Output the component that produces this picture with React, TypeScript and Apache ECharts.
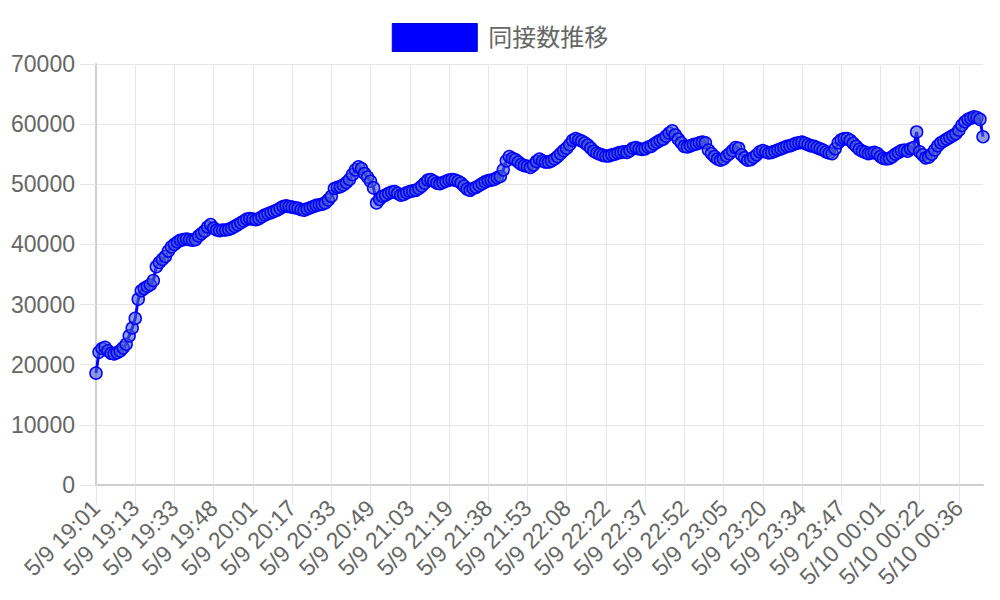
import React, { useEffect, useRef } from "react";
import * as echarts from "echarts";

const seriesName = "同接数推移";

// tick labels shown on the x axis (every 13th point)
const tickLabels = [
  "5/9 19:01", "5/9 19:13", "5/9 19:33", "5/9 19:48", "5/9 20:01", "5/9 20:17",
  "5/9 20:33", "5/9 20:49", "5/9 21:03", "5/9 21:19", "5/9 21:38", "5/9 21:53",
  "5/9 22:08", "5/9 22:22", "5/9 22:37", "5/9 22:52", "5/9 23:05", "5/9 23:20",
  "5/9 23:34", "5/9 23:47", "5/10 00:01", "5/10 00:22", "5/10 00:36",
];

const concurrentViewers = [
  18600, 22100, 22700, 22900, 22300, 21900, 21800, 22000, 22300, 22800, 23400, 24800, 26100, 27700, 30900,
  32300, 32700, 33000, 33300, 34000, 36300, 37000, 37500, 38000, 38900, 39600, 40000, 40400, 40700, 40800,
  40900, 40800, 40700, 40800, 41400, 41800, 42200, 42900, 43300, 42700, 42400, 42300, 42400, 42400, 42500,
  42700, 43000, 43300, 43600, 43900, 44200, 44300, 44200, 44100, 44300, 44600, 44900, 45100, 45300, 45500,
  45700, 46000, 46300, 46400, 46300, 46200, 46100, 46000, 45800, 45700, 45900, 46100, 46300, 46500, 46600,
  46700, 46900, 47400, 48000, 49300, 49500, 49600, 49900, 50300, 50800, 51600, 52400, 52900, 52600, 51800,
  51200, 50500, 49400, 46900, 47500, 48000, 48200, 48500, 48700, 48800, 48500, 48200, 48300, 48600, 48800,
  48900, 49000, 49300, 49700, 50200, 50700, 50800, 50500, 50200, 50100, 50300, 50500, 50700, 50800, 50700,
  50500, 50200, 49700, 49200, 49000, 49300, 49500, 49800, 50100, 50400, 50600, 50700, 50800, 51100, 51300,
  52400, 53900, 54600, 54300, 54100, 53700, 53300, 53100, 53000, 52800, 53200, 53800, 54200, 53900, 53700,
  53700, 53900, 54200, 54600, 55100, 55600, 56000, 56600, 57300, 57600, 57400, 57200, 56900, 56500, 56000,
  55500, 55200, 55000, 54800, 54700, 54700, 54900, 55000, 55200, 55300, 55400, 55300, 55600, 56000, 56100,
  55900, 55800, 55900, 56200, 56300, 56700, 57000, 57300, 57500, 58000, 58500, 58900, 58200, 57500, 56900,
  56300, 56200, 56400, 56600, 56700, 56900, 57000, 56900, 55700, 55100, 54600, 54200, 54000, 54200, 54700,
  55100, 55600, 56100, 56000, 54900, 54400, 54000, 54100, 54500, 54900, 55400, 55600, 55400, 55200, 55300,
  55500, 55700, 55900, 56100, 56300, 56400, 56600, 56800, 56900, 57000, 56800, 56600, 56400, 56300, 56100,
  55900, 55700, 55400, 55200, 55100, 55900, 56900, 57400, 57600, 57600, 57300, 56800, 56300, 55800, 55500,
  55300, 55100, 55200, 55300, 55100, 54600, 54300, 54200, 54300, 54600, 55000, 55300, 55600, 55700, 55500,
  55900, 56100, 58700, 55400, 54900, 54400, 54500, 55000, 55700, 56400, 56900, 57200, 57500, 57800, 58100,
  58400, 59000, 59800, 60400, 60800, 61000, 61200, 61100, 60800, 57900,
];

const POINTS_PER_TICK = 13;

function toMinutes(label: string): number {
  const [md, hm] = label.split(" ");
  const day = parseInt(md.split("/")[1], 10);
  const [h, m] = hm.split(":").map((s) => parseInt(s, 10));
  return (day - 9) * 1440 + h * 60 + m;
}
function fmt(min: number): string {
  const day = 9 + Math.floor(min / 1440);
  const r = min % 1440;
  const h = Math.floor(r / 60);
  const m = r % 60;
  return `5/${day} ${String(h).padStart(2, "0")}:${String(m).padStart(2, "0")}`;
}

// categories: the visible tick labels, with in-between time stamps for the hidden ones
const categories: string[] = [];
for (let i = 0; i < concurrentViewers.length; i++) {
  const k = Math.floor(i / POINTS_PER_TICK);
  const j = i % POINTS_PER_TICK;
  if (j === 0 && k < tickLabels.length) {
    categories.push(tickLabels[k]);
  } else if (k + 1 < tickLabels.length) {
    const a = toMinutes(tickLabels[k]);
    const b = toMinutes(tickLabels[k + 1]);
    categories.push(fmt(Math.round(a + ((b - a) * j) / POINTS_PER_TICK)));
  } else {
    categories.push(fmt(toMinutes(tickLabels[tickLabels.length - 1]) + j));
  }
}

const FONT = "'Liberation Sans', Arial, 'Noto Sans CJK JP', sans-serif";

export default function App() {
  const ref = useRef<HTMLDivElement>(null);
  useEffect(() => {
    if (!ref.current) return;
    const chart = echarts.init(ref.current, null, { renderer: "svg" });
    chart.setOption({
      animation: false,
      backgroundColor: "#ffffff",
      textStyle: { fontFamily: FONT },
      legend: {
        top: 18,
        left: "center",
        itemWidth: 85,
        itemHeight: 28,
        icon: "rect",
        itemStyle: { color: "#0000ff", borderColor: "#0000cc", borderWidth: 1 },
        textStyle: { fontSize: 24, color: "#666666", fontFamily: FONT, padding: [0, 0, 0, 6] },
        data: [seriesName],
      },
      grid: { left: 96, right: 17, top: 64, bottom: 115, containLabel: false },
      xAxis: {
        type: "category",
        data: categories,
        boundaryGap: false,
        axisLine: { show: true, lineStyle: { color: "#cfcfcf", width: 2 } },
        axisTick: {
          show: true,
          interval: POINTS_PER_TICK - 1,
          length: 20,
          lineStyle: { color: "#e6e6e6", width: 1 },
        },
        splitLine: {
          show: true,
          interval: POINTS_PER_TICK - 1,
          lineStyle: { color: "#e6e6e6", width: 1 },
        },
        axisLabel: {
          interval: POINTS_PER_TICK - 1,
          rotate: 45,
          fontSize: 23,
          color: "#666666",
          margin: 19,
          fontFamily: FONT,
        },
      },
      yAxis: {
        type: "value",
        min: 0,
        max: 70000,
        interval: 10000,
        axisLine: { show: true, lineStyle: { color: "#cfcfcf", width: 2 } },
        axisTick: { show: true, length: 16, lineStyle: { color: "#e6e6e6", width: 1 } },
        splitLine: { show: true, lineStyle: { color: "#e6e6e6", width: 1 } },
        axisLabel: {
          fontSize: 23,
          color: "#666666",
          margin: 21,
          fontFamily: FONT,
          formatter: (v: number) => String(v),
        },
      },
      series: [
        {
          name: seriesName,
          type: "line",
          data: concurrentViewers,
          symbol: "circle",
          symbolSize: 12,
          showAllSymbol: true,
          lineStyle: { color: "#0000ff", width: 3, join: "miter", miterLimit: 10 },
          itemStyle: {
            color: "rgba(70,90,205,0.6)",
            borderColor: "#0000ff",
            borderWidth: 1.5,
          },
          emphasis: { disabled: true },
        },
      ],
    });
    return () => chart.dispose();
  }, []);
  return (
    <div
      ref={ref}
      style={{ position: "fixed", left: 0, top: 0, width: 1000, height: 600 }}
    />
  );
}
